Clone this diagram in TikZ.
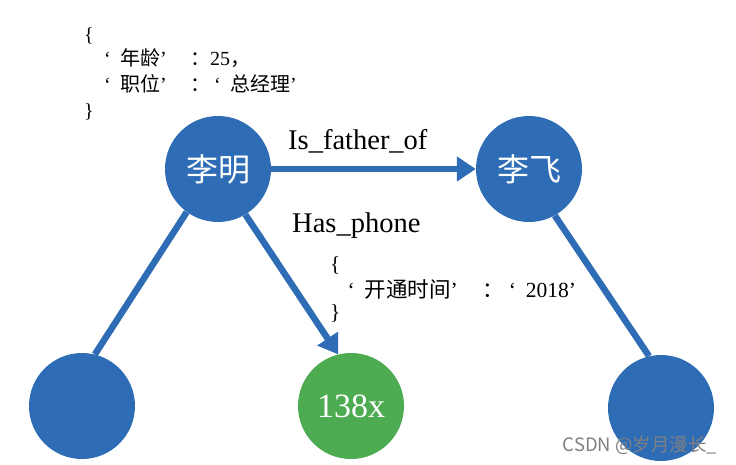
\documentclass[tikz,border=0pt]{standalone}
\usepackage{fontspec}
\setmainfont{Liberation Serif}
\newfontfamily\cjk{Noto Sans CJK SC}
\usetikzlibrary{arrows.meta, positioning}
\definecolor{nodeblue}{HTML}{2E6DB6}
\definecolor{nodegreen}{HTML}{4DAB52}
\newcommand{\zh}[1]{{\cjk #1}}
\newcommand{\oq}{\makebox[1em][l]{\hspace{0.2em}‘}}
\newcommand{\cq}{\makebox[1.5em][l]{’}}

\begin{document}
\begin{tikzpicture}[x=1pt, y=-1pt,
    entity/.style={circle, fill=nodeblue, minimum size=106pt, inner sep=0pt, text=white, font=\cjk\fontsize{32}{32}\selectfont},
    value/.style={entity, fill=nodegreen, font=\fontsize{34}{34}\selectfont},
    rel/.style={line width=6.5pt, draw=nodeblue},
    relarrow/.style={rel, -{Triangle[length=19pt, width=24pt]}},
    lbl/.style={anchor=base west, inner sep=0pt, font=\fontsize{28.5}{30}\selectfont},
    attr/.style={anchor=base west, inner sep=0pt, font=\fontsize{20}{24}\selectfont},
    attrb/.style={attr, font=\fontsize{21.5}{24}\selectfont}]
\useasboundingbox (0,0) rectangle (736,465);

% entities
\node[entity] (lm) at (218,169) {李明};
\node[entity] (lf) at (529,169) {李飞};
\node[entity] (bl) at (82,406) {};
\node[value] (ph) at (351,406) {138x};
\node[entity] (br) at (661,408) {};

% relations
\draw[relarrow] (lm) -- (lf);
\draw[relarrow] (lm.-59) -- (ph.104);
\draw[rel] (lm.-126) -- (bl.76);
\draw[rel] (lf.-61) -- (br.103);

% relation labels
\node[lbl] (fatherlbl) at (288,150) {Is\_father\_of};
\node[lbl] (phonelbl) at (292,233) {Has\_phone};

% properties of 李明
\node[attr] (a1) at (84,42) {\{};
\node[attr] (a2) at (100,66) {\oq\zh{年龄}\cq\zh{：}25\zh{，}};
\node[attr] (a3) at (100,92) {\oq\zh{职位}\cq\zh{：}\oq\zh{总经理}’};
\node[attr] (a4) at (84,118) {\}};

% properties of Has_phone
\node[attrb] (p1) at (330,271) {\{};
\node[attrb] (p2) at (343,297) {\oq\zh{开通时间}\cq\zh{：}\oq 2018’};
\node[attrb] (p3) at (330,319) {\}};

% watermark
\node[font=\cjk\fontsize{18.5}{18.5}\selectfont, text=gray] (mark) at (640,445) {CSDN @岁月漫长\_};
\end{tikzpicture}
\end{document}
